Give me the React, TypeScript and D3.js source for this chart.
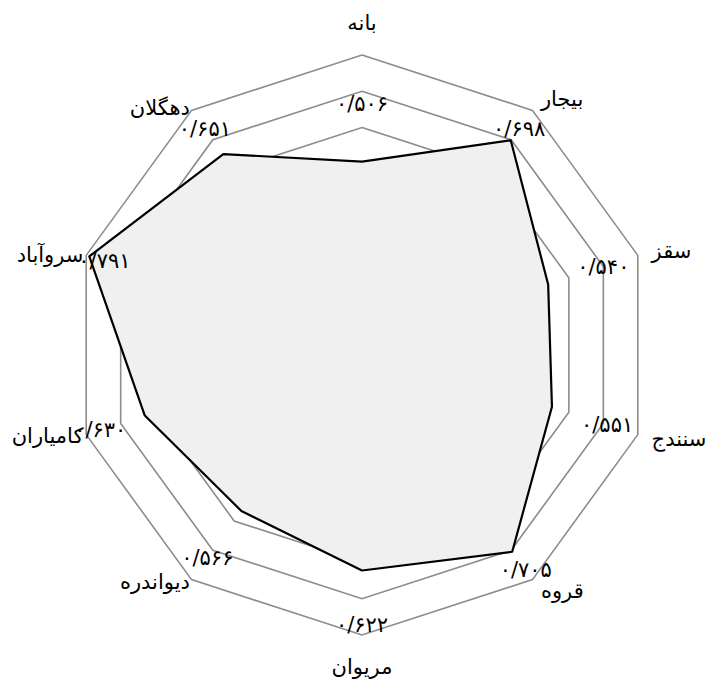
import { useEffect, useRef } from 'react';
import * as d3 from 'd3';

// axes, clockwise from the top
const cities = ['بانه', 'بیجار', 'سقز', 'سنندج', 'قروه', 'مریوان', 'دیواندره', 'کامیاران', 'سروآباد', 'دهگلان'];
const scores = [0.506, 0.698, 0.54, 0.551, 0.705, 0.622, 0.566, 0.63, 0.791, 0.651];
const levels = [0.1, 0.2, 0.3, 0.4, 0.5, 0.6, 0.7, 0.8];

const toPersian = (v: number) =>
  v.toFixed(3).replace('.', '/').replace(/\d/g, (c) => '۰۱۲۳۴۵۶۷۸۹'[+c]);

const RadarChart = ({ width = 706, height = 681 }) => {
  const svgRef = useRef<SVGSVGElement | null>(null);

  useEffect(() => {
    const svg = d3.select(svgRef.current);
    svg.selectAll('*').remove();

    const cx = 362;
    const cy = 345;
    const radius = 290;
    const font = "'DejaVu Sans', sans-serif";

    const g = svg.append('g').attr('transform', `translate(${cx},${cy})`);

    const rScale = d3.scaleLinear().domain([0, 0.8]).range([0, radius]);
    const angle = d3.scaleLinear().domain([0, cities.length]).range([0, 2 * Math.PI]);

    const pt = (i: number, r: number): [number, number] => [
      r * Math.sin(angle(i)),
      -r * Math.cos(angle(i)),
    ];

    // grid rings
    g.selectAll('.ring')
      .data(levels)
      .enter()
      .append('polygon')
      .attr('class', 'ring')
      .attr('points', (lv) => cities.map((_, i) => pt(i, rScale(lv)).join(',')).join(' '))
      .attr('fill', 'none')
      .attr('stroke', '#8c8c8c')
      .attr('stroke-width', 1.6);

    // data shape
    const line = d3
      .lineRadial<number>()
      .angle((_, i) => angle(i))
      .radius((d) => rScale(d))
      .curve(d3.curveLinearClosed);

    g.append('path')
      .attr('d', line(scores))
      .attr('fill', '#f0f0f0')
      .attr('stroke', '#000')
      .attr('stroke-width', 2.2)
      .attr('stroke-linejoin', 'round');

    // value labels, pushed out from the point; capped tighter near the top
    const labelR = (d: number, i: number) =>
      Math.min(rScale(d) + 58, 266 + (14 * (1 - Math.cos(angle(i)))) / 2);

    g.selectAll('.value')
      .data(scores)
      .enter()
      .append('text')
      .attr('class', 'value')
      .attr('x', (d, i) => pt(i, labelR(d, i))[0])
      .attr('y', (d, i) => pt(i, labelR(d, i))[1])
      .attr('text-anchor', 'middle')
      .attr('dominant-baseline', 'central')
      .style('font-family', font)
      .style('font-size', '21px')
      .style('fill', '#000')
      .text((d) => toPersian(d));

    // axis names: centred at top/bottom, otherwise hung off the outer side
    const side = (i: number) => {
      const s = Math.sin(angle(i));
      return Math.abs(s) < 0.2 ? 0 : Math.sign(s);
    };
    const nameR = (i: number) =>
      side(i) === 0 ? radius * 1.11 : side(i) > 0 ? radius * 1.05 : radius * 1.01;

    g.selectAll('.name')
      .data(cities)
      .enter()
      .append('text')
      .attr('class', 'name')
      .attr('x', (_, i) => pt(i, nameR(i))[0])
      .attr('y', (_, i) => pt(i, nameR(i))[1])
      .attr('text-anchor', (_, i) => (side(i) === 0 ? 'middle' : side(i) > 0 ? 'start' : 'end'))
      .attr('dominant-baseline', 'central')
      .style('font-family', font)
      .style('font-size', '21px')
      .style('fill', '#000')
      .text((d) => d);
  }, [width, height]);

  return (
    <svg
      ref={svgRef}
      width={width}
      height={height}
      style={{ position: 'absolute', left: 0, top: 0, background: '#fff' }}
    />
  );
};

export default function App() {
  return <RadarChart />;
}
